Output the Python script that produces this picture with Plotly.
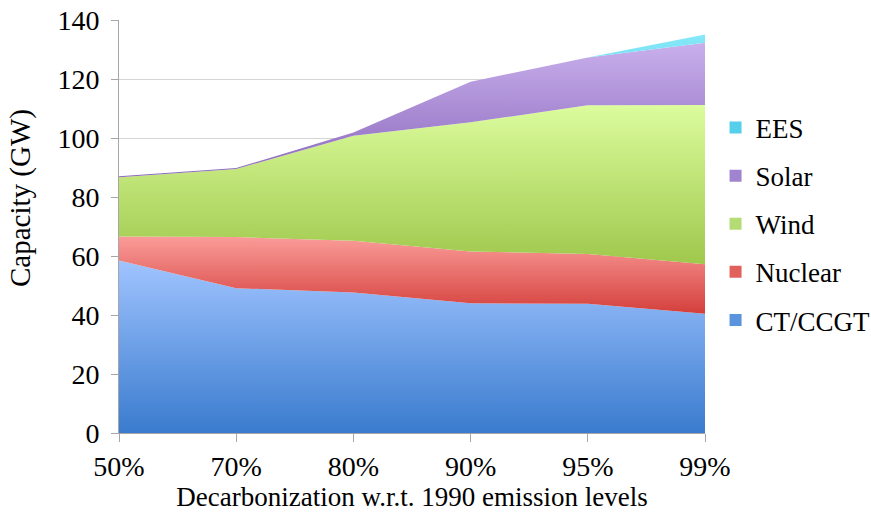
import plotly.graph_objects as go

categories = ["50%", "70%", "80%", "90%", "95%", "99%"]
ct_ccgt = [58.5, 49.1, 47.6, 44.0, 43.8, 40.4]
nuclear = [8.1, 17.3, 17.6, 17.5, 16.9, 16.8]
wind = [20.1, 23.1, 35.6, 43.8, 50.4, 54.0]
solar = [0.3, 0.3, 1.1, 13.8, 16.2, 21.1]
ees = [0.0, 0.0, 0.0, 0.0, 0.0, 2.8]

series = [
    ("CT/CCGT", ct_ccgt, "#3A7BCE", "#A0C4FF", "#5B93DD"),
    ("Nuclear", nuclear, "#D43F3B", "#FA9C99", "#E2605C"),
    ("Wind", wind, "#9FC84C", "#DCFC9D", "#B5DC74"),
    ("Solar", solar, "#8B68BD", "#C9B0EC", "#A184CF"),
    ("EES", ees, "#3FC2E3", "#86E8F8", "#55CFEA"),
]

FONT = "'Liberation Serif', 'Times New Roman', 'DejaVu Serif', serif"
fig = go.Figure()

base = [0.0] * len(categories)
for name, vals, dark, light, mid in series:
    top = [b + v for b, v in zip(base, vals)]
    lo = min(base)
    hi = max(top)
    fig.add_trace(go.Scatter(
        x=categories, y=vals, name=name, stackgroup="one", mode="lines",
        line=dict(width=0, color=mid),
        fillgradient=dict(type="vertical", start=lo, stop=hi,
                          colorscale=[[0, dark], [1, light]]),
        showlegend=False, hoverinfo="skip",
    ))
    base = top

# legend entries (square swatches), top to bottom
for name, vals, dark, light, mid in reversed(series):
    fig.add_trace(go.Scatter(
        x=[None], y=[None], mode="markers", name=name, legendgroup=name,
        marker=dict(symbol="square", size=12, color=mid),
    ))

fig.update_layout(
    width=871, height=515,
    margin=dict(l=119, r=166, t=20, b=82, autoexpand=False),
    paper_bgcolor="white", plot_bgcolor="white",
    font=dict(family=FONT, size=26, color="black"),
    legend=dict(x=1.018, xanchor="left", y=0.506, yanchor="middle",
                traceorder="grouped", tracegroupgap=10,
                font=dict(family=FONT, size=27), itemwidth=30),
    xaxis=dict(
        type="category", range=[0, 5], showgrid=False, automargin=False,
        showline=True, linecolor="#A6A6A6", linewidth=1,
        ticks="outside", ticklen=8, tickcolor="#A6A6A6",
        tickfont=dict(family=FONT, size=28),
        title=dict(text="Decarbonization w.r.t. 1990 emission levels",
                   font=dict(family=FONT, size=27), standoff=4),
    ),
    yaxis=dict(
        range=[0, 140], dtick=20, showgrid=True, gridcolor="#D4D4D4",
        automargin=False,
        showline=True, linecolor="#A6A6A6", linewidth=1,
        ticks="outside", ticklen=7, tickcolor="#A6A6A6",
        ticklabelstandoff=6,
        tickfont=dict(family=FONT, size=28), zeroline=False,
    ),
    annotations=[dict(
        text="Capacity (GW)", textangle=-90, showarrow=False,
        xref="paper", yref="paper", x=-0.169, y=0.569,
        xanchor="center", yanchor="middle",
        font=dict(family=FONT, size=29),
    )],
)

fig.write_html(
    "out.html",
    config={"displayModeBar": False},
    post_script="document.body.style.margin='0';document.body.style.padding='0';",
)
